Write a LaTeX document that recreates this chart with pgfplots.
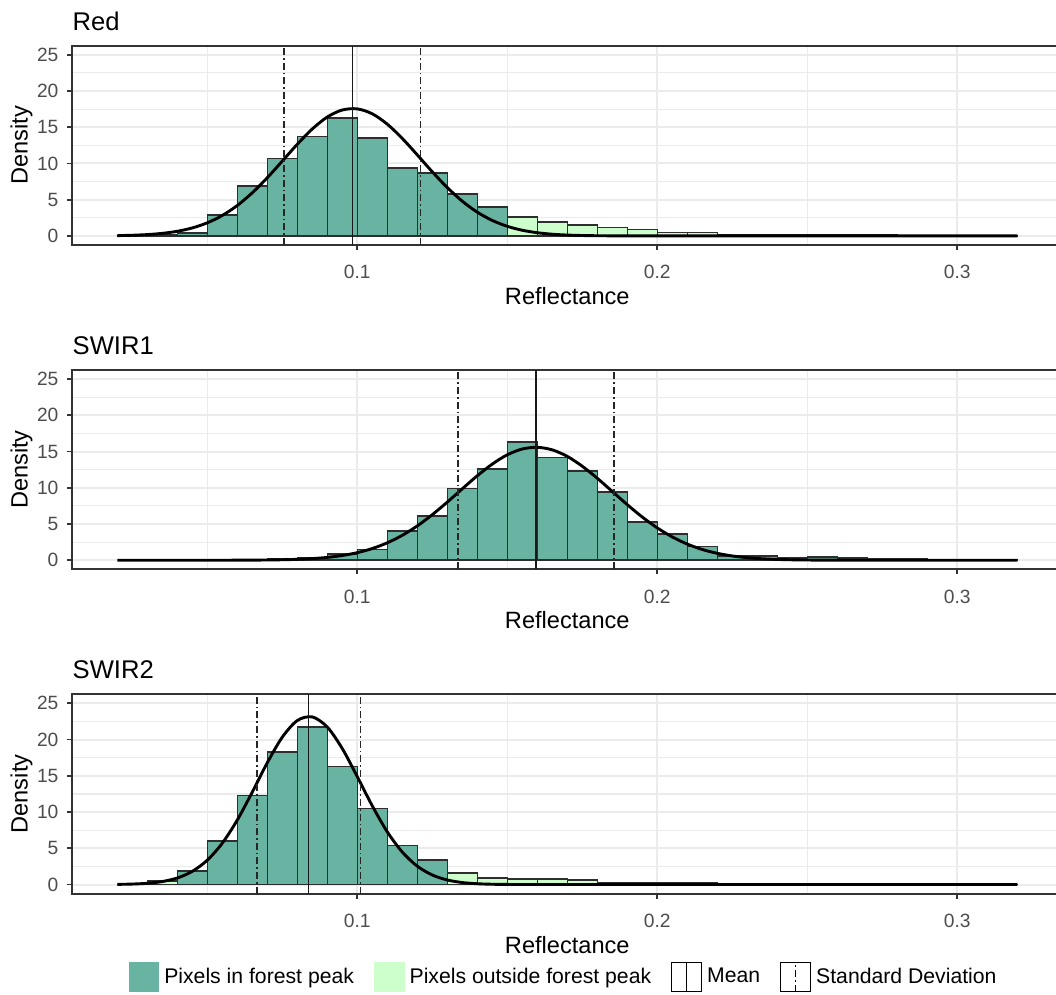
\documentclass[border=0pt]{standalone}
\usepackage{fontspec}
\setmainfont{Liberation Sans}
\usepackage{pgfplots}
\pgfplotsset{compat=1.18}
\definecolor{forest}{HTML}{69B3A2}
\definecolor{outside}{HTML}{CCFFCC}
\definecolor{grid92}{HTML}{EBEBEB}
\definecolor{grey20}{HTML}{333333}
\definecolor{grey30}{HTML}{4D4D4D}
\pgfplotsset{
  panel/.style={
    scale only axis, width=495pt, height=99.65pt,
    xmin=0.005, xmax=0.335, ymin=-1.25, ymax=26.25,
    xtick={0.1,0.2,0.3}, ytick={0,5,10,15,20,25},
    minor xtick={0.05,0.15,0.25}, minor ytick={2.5,7.5,12.5,17.5,22.5},
    scaled x ticks=false,
    grid=both,
    major grid style={grid92, line width=1pt},
    minor grid style={grid92, line width=0.6pt},
    tick align=outside, tick pos=left,
    major tick length=2.5pt, minor tick length=0pt,
    tick style={grey20, line width=0.9pt},
    minor tick style={draw=none},
    axis line style={grey20, line width=0.9pt},
    /pgf/number format/assume math mode=true,
    tick label style={font=\fontsize{9.6}{11}\selectfont, text=grey30, inner sep=0pt},
    xticklabel style={anchor=north, yshift=-7.5pt},
    yticklabel style={anchor=east, xshift=-4.25pt},
    xlabel={Reflectance}, ylabel={Density},
    every axis x label/.style={at={([yshift=-21pt]rel axis cs:0.5,0)}, anchor=north, font=\fontsize{11.8}{14}\selectfont, inner sep=0pt},
    every axis y label/.style={at={([xshift=-19.7pt]rel axis cs:0,0.5)}, anchor=south, rotate=90, font=\fontsize{11.8}{14}\selectfont, inner sep=0pt},
    every axis title/.style={at={([yshift=7.75pt]rel axis cs:0,1)}, anchor=base west, font=\fontsize{12.8}{15}\selectfont, inner sep=0pt},
  },
  bars/.style={ybar interval, draw=black!82, line width=0.8pt},
  dens/.style={black, line width=1.45pt, smooth},
  meanline/.style={black!90, line width=0.9pt},
  sdline/.style={black!85, line width=0.8pt, dash pattern=on 3.5pt off 1.5pt on 0.8pt off 1.5pt},
}
\begin{document}
\begin{tikzpicture}
\useasboundingbox (-36.15pt,-375pt) rectangle (491.85pt,122.5pt);
% ---------------- Red ----------------
\begin{axis}[panel, title={Red}, at={(0pt,0pt)}, anchor=south west]
\addplot[bars, fill=forest] coordinates {(0.04,0.4) (0.05,2.9) (0.06,6.9) (0.07,10.7) (0.08,13.7) (0.09,16.3) (0.10,13.5) (0.11,9.4) (0.12,8.7) (0.13,5.8) (0.14,4.0) (0.15,0)};
\addplot[bars, fill=outside] coordinates {(0.02,0.03) (0.03,0.15) (0.04,0)};
\addplot[bars, fill=outside] coordinates {(0.15,2.6) (0.16,1.9) (0.17,1.55) (0.18,1.15) (0.19,0.9) (0.20,0.5) (0.21,0.45) (0.22,0.2) (0.23,0.2) (0.24,0.2) (0.25,0.2) (0.26,0.2) (0.27,0.2) (0.28,0.05) (0.32,0)};
\addplot[dens] coordinates {(0.020,0.045) (0.025,0.094) (0.030,0.188) (0.035,0.356) (0.040,0.642) (0.045,1.105) (0.050,1.811) (0.055,2.826) (0.060,4.200) (0.065,5.956) (0.070,8.035) (0.075,10.33) (0.080,12.65) (0.085,14.76) (0.090,16.41) (0.095,17.38) (0.100,17.53) (0.105,16.85) (0.110,15.42) (0.115,13.45) (0.120,11.18) (0.125,8.846) (0.130,6.670) (0.135,4.791) (0.140,3.278) (0.145,2.137) (0.150,1.327) (0.155,0.785) (0.160,0.443) (0.165,0.237) (0.170,0.121) (0.175,0.059) (0.180,0.028) (0.190,0.005) (0.200,0.001) (0.220,0) (0.260,0) (0.320,0)};
\addplot[meanline] coordinates {(0.0984,-1.25) (0.0984,26.25)};
\addplot[sdline] coordinates {(0.0756,-1.25) (0.0756,26.25)};
\addplot[sdline] coordinates {(0.1211,-1.25) (0.1211,26.25)};
\end{axis}
% ---------------- SWIR1 ----------------
\begin{axis}[panel, title={SWIR1}, at={(0pt,-162.15pt)}, anchor=south west]
\addplot[bars, fill=forest] coordinates {(0.07,0.15) (0.08,0.35) (0.09,0.9) (0.10,1.5) (0.11,4.0) (0.12,6.1) (0.13,9.9) (0.14,12.6) (0.15,16.3) (0.16,14.2) (0.17,12.3) (0.18,9.4) (0.19,5.3) (0.20,3.6) (0.21,1.9) (0.22,0.6) (0.23,0.55) (0.24,0.3) (0.25,0.45) (0.26,0.3) (0.27,0.2) (0.28,0.2) (0.29,0.05) (0.32,0)};
\addplot[dens] coordinates {(0.020,0) (0.050,0) (0.060,0.008) (0.065,0.017) (0.070,0.035) (0.075,0.067) (0.080,0.125) (0.085,0.226) (0.090,0.391) (0.095,0.652) (0.100,1.046) (0.105,1.616) (0.110,2.405) (0.115,3.439) (0.120,4.740) (0.125,6.285) (0.130,8.023) (0.135,9.859) (0.140,11.66) (0.145,13.27) (0.150,14.55) (0.155,15.35) (0.160,15.58) (0.165,15.23) (0.170,14.33) (0.175,12.97) (0.180,11.31) (0.185,9.489) (0.190,7.664) (0.195,5.958) (0.200,4.459) (0.205,3.212) (0.210,2.227) (0.215,1.485) (0.220,0.954) (0.225,0.590) (0.230,0.351) (0.235,0.201) (0.240,0.111) (0.245,0.059) (0.250,0.030) (0.260,0.007) (0.270,0.001) (0.280,0) (0.320,0)};
\addplot[meanline] coordinates {(0.1595,-1.25) (0.1595,26.25)};
\addplot[sdline] coordinates {(0.1335,-1.25) (0.1335,26.25)};
\addplot[sdline] coordinates {(0.1856,-1.25) (0.1856,26.25)};
\end{axis}
% ---------------- SWIR2 ----------------
\begin{axis}[panel, title={SWIR2}, at={(0pt,-324.3pt)}, anchor=south west,
  legend columns=4,
  legend cell align=left,
  legend style={at={([xshift=28pt,yshift=-41.7pt]rel axis cs:0,0)}, anchor=west, draw=none, fill=none, inner sep=0pt,
    font=\fontsize{10.6}{13}\selectfont, nodes={inner sep=0pt, inner xsep=2.5pt, text depth=0.15em},
    /tikz/every even column/.append style={column sep=7.5pt}},
]
\addplot[bars, fill=forest, legend image code/.code={\fill[forest] (0pt,-7.25pt) rectangle (14.5pt,7.25pt);}] coordinates {(0.04,1.84) (0.05,6.0) (0.06,12.3) (0.07,18.3) (0.08,21.7) (0.09,16.3) (0.10,10.5) (0.11,5.4) (0.12,3.4) (0.13,0)};
\addlegendentry{Pixels in forest peak}
\addplot[bars, fill=outside, legend image code/.code={\fill[outside] (0pt,-7.25pt) rectangle (14.5pt,7.25pt);}] coordinates {(0.13,1.6) (0.14,0.92) (0.15,0.8) (0.16,0.8) (0.17,0.6) (0.18,0.25) (0.19,0.2) (0.20,0.2) (0.21,0.2) (0.22,0.03) (0.32,0)};
\addlegendentry{Pixels outside forest peak}
\addplot[bars, fill=outside, forget plot] coordinates {(0.02,0.03) (0.03,0.5) (0.04,0)};
\addplot[dens, forget plot] coordinates {(0.020,0.024) (0.025,0.067) (0.030,0.174) (0.035,0.414) (0.040,0.905) (0.045,1.820) (0.050,3.363) (0.055,5.708) (0.060,8.905) (0.065,12.76) (0.070,16.81) (0.075,20.34) (0.080,22.63) (0.085,23.13) (0.090,21.73) (0.095,18.76) (0.100,14.88) (0.105,10.85) (0.110,7.268) (0.115,4.476) (0.120,2.532) (0.125,1.316) (0.130,0.629) (0.135,0.276) (0.140,0.111) (0.145,0.041) (0.150,0.014) (0.160,0.001) (0.170,0) (0.320,0)};
\addplot[meanline, legend image code/.code={\draw[black, solid, line width=0.5pt] (0pt,-7.25pt) rectangle (15pt,7.25pt); \draw[black, solid, line width=0.6pt] (7.5pt,-7.25pt) -- (7.5pt,7.25pt);}] coordinates {(0.0837,-1.25) (0.0837,26.25)};
\addlegendentry{Mean}
\addplot[sdline, legend image code/.code={\draw[black, solid, line width=0.5pt] (0pt,-7.25pt) rectangle (15pt,7.25pt); \draw[black, line width=0.6pt, dash pattern=on 3.5pt off 1.5pt on 0.8pt off 1.5pt] (7.5pt,-7.25pt) -- (7.5pt,7.25pt);}] coordinates {(0.0665,-1.25) (0.0665,26.25)};
\addlegendentry{Standard Deviation}
\addplot[sdline, forget plot] coordinates {(0.1011,-1.25) (0.1011,26.25)};
\end{axis}
\end{tikzpicture}
\end{document}
